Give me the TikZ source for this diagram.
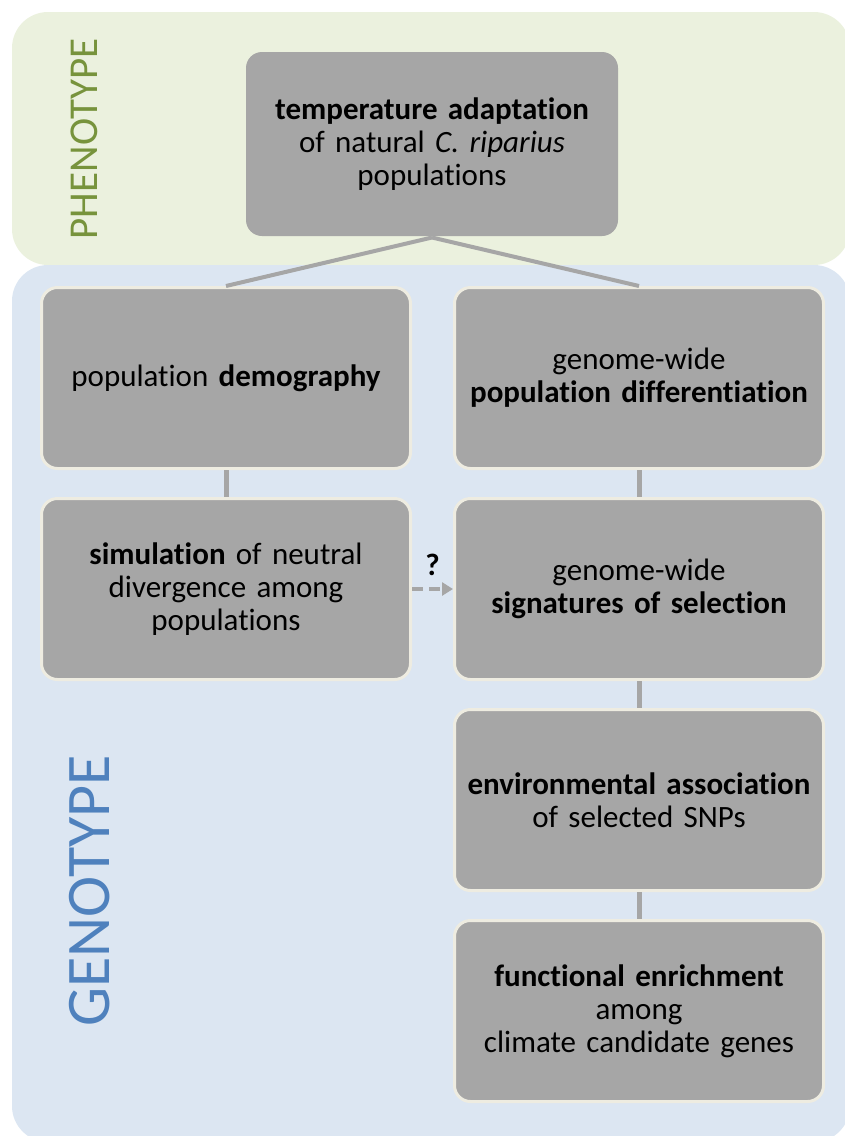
\documentclass[tikz,border=0pt]{standalone}
\usepackage{fontspec}
\setmainfont{Carlito}[Ligatures=NoCommon]
\usepackage{xcolor}
\usetikzlibrary{arrows.meta, positioning}

\definecolor{boxgray}{HTML}{A6A6A6}
\definecolor{boxrim}{HTML}{EEECE1}
\definecolor{phenofill}{HTML}{EBF1DE}
\definecolor{genofill}{HTML}{DCE6F2}
\definecolor{phenotext}{HTML}{77933C}
\definecolor{genotext}{HTML}{4F81BD}

\begin{document}
\begin{tikzpicture}[
  x=1pt, y=-1pt,
  node distance=27pt and 41pt,
  box/.style={rectangle, rounded corners=16pt, fill=boxgray, draw=boxrim,
              line width=3pt, minimum width=369pt, minimum height=181pt,
              text width=360pt, align=center, inner sep=0pt,
              font=\fontsize{31}{33}\selectfont},
  topbox/.style={box, draw=none, minimum width=372pt, minimum height=184pt},
  region/.style={rounded corners=36pt},
  link/.style={draw=boxgray, line width=4pt},
  dasharrow/.style={draw=boxgray, line width=4pt, dash pattern=on 11pt off 6pt,
                    -{Triangle[length=11pt, width=13pt]}}
]
\useasboundingbox (0,0) rectangle (845,1136);
% background regions
\fill[region, phenofill] (12,12) rectangle (850,265);
\fill[region, genofill] (12,265) rectangle (850,1142);
\node[rotate=90, text=phenotext, font=\fontsize{41}{41}\selectfont] (pheno) at (84,139) {PHENOTYPE};
\node[rotate=90, text=genotext, font=\fontsize{62}{62}\selectfont] (geno) at (90,891) {GENOTYPE};

% boxes
\node[topbox] (temp) at (432,144) {%
  \textbf{temperature adaptation}\\
  of natural \textit{C. riparius}\\
  populations
};
\node[box] (demog) at (226,378) {population \textbf{demography}};
\node[box, right=of demog] (differ) {genome-wide\\ \textbf{population differentiation}};
\node[box, below=of demog] (simul) {%
  \textbf{simulation} of neutral\\
  divergence among\\
  populations
};
\node[box, below=of differ] (select) {genome-wide\\ \textbf{signatures of selection}};
\node[box, below=of select] (envir) {%
  \textbf{environmental association}\\
  of selected SNPs
};
\node[box, below=of envir] (funct) {%
  \textbf{functional enrichment}\\
  among\\
  climate candidate genes
};

% connectors
\draw[link] (temp.south) -- (demog.north);
\draw[link] (temp.south) -- (differ.north);
\draw[link, line width=5pt] (demog) -- (simul);
\draw[link, line width=5pt] (differ) -- (select);
\draw[link, line width=5pt] (select) -- (envir);
\draw[link, line width=5pt] (envir) -- (funct);
\draw[dasharrow] (simul.east) -- node[above=8pt, font=\fontsize{31}{31}\selectfont\bfseries] {?} (select.west);
\end{tikzpicture}
\end{document}
